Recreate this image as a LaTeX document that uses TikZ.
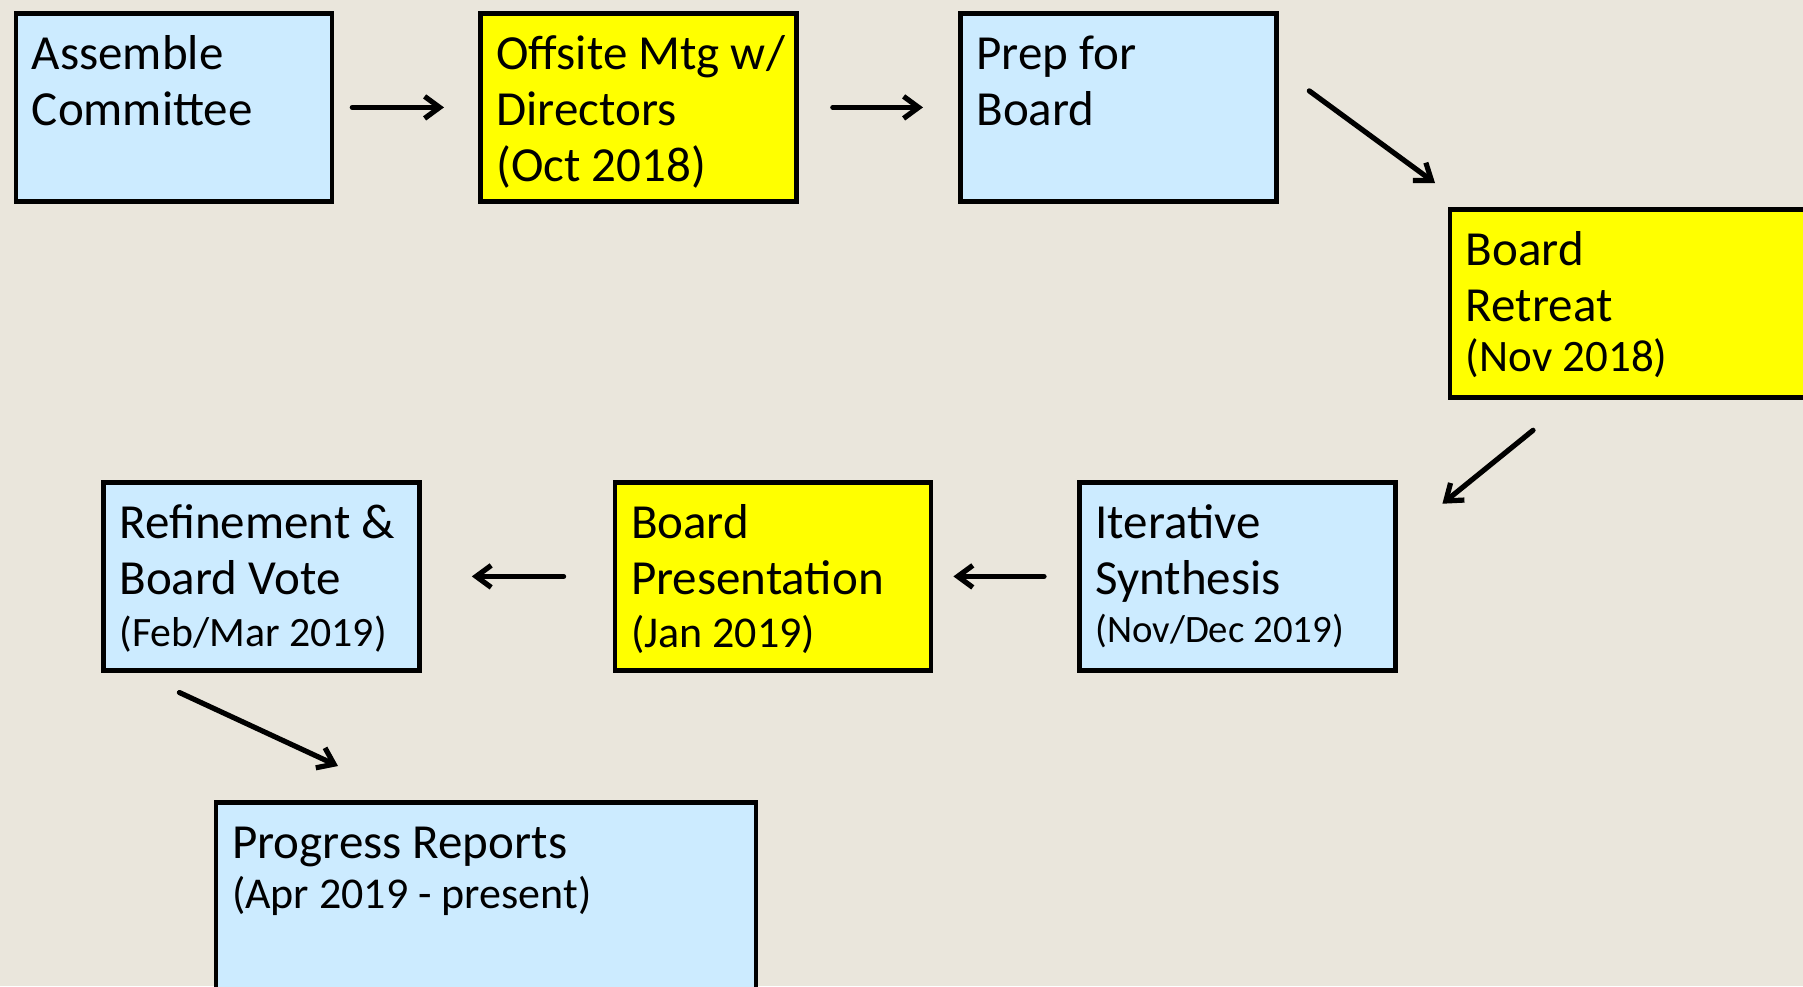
\documentclass[tikz,border=0pt]{standalone}
\usepackage{fontspec}
\setmainfont{Carlito}
\usepackage{tikz}
\usetikzlibrary{arrows.meta}

\definecolor{paper}{HTML}{EAE6DC}
\definecolor{skyblue}{HTML}{CCEBFF}
\definecolor{lemon}{HTML}{FFFF00}

\begin{document}
\begin{tikzpicture}
  [x=0.5pt,y=-0.5pt,
   box/.style={draw=black,line width=2.4pt,anchor=north west,minimum width=158pt,minimum height=94pt,inner sep=0pt},
   txt/.style={anchor=base west,inner sep=0pt,font=\fontsize{24.5}{28.2}\selectfont},
   arr/.style={line width=2.6pt,line cap=round,-{Straight Barb[length=7.5pt,width=11pt,line width=2.6pt]}}]
  \useasboundingbox (0,0) rectangle (1803,986);
  \clip (0,0) rectangle (1803,986);
  \fill[paper] (0,0) rectangle (1803,986);

  % top row
  \node[box,fill=skyblue] (asm)  at (13.5,11) {};
  \node[box,fill=lemon]   (offs) at (478,11) {};
  \node[box,fill=skyblue] (prep) at (958,11) {};
  \node[box,fill=lemon,minimum width=200pt] (retr) at (1447.5,207) {};
  % middle row
  \node[box,fill=skyblue] (iter) at (1077,480) {};
  \node[box,fill=lemon]   (pres) at (612.6,480) {};
  \node[box,fill=skyblue] (vote) at (101,480) {};
  % bottom
  \node[box,fill=skyblue,minimum width=270pt,minimum height=125pt] (prog) at (213.6,800) {};

  \node[txt] (asm-t)  at ([shift={(18,58)}]asm.north west)  {\parbox[t]{150pt}{Assemble\\Committee}};
  \node[txt] (offs-t) at ([shift={(18,58)}]offs.north west) {\parbox[t]{150pt}{Offsite Mtg w/\\Directors\\(Oct 2018)}};
  \node[txt] (prep-t) at ([shift={(18,58)}]prep.north west) {\parbox[t]{150pt}{Prep for\\Board}};
  \node[txt] (retr-t) at ([shift={(18,58)}]retr.north west) {\parbox[t]{150pt}{Board\\Retreat\\[-3pt]{\fontsize{22.5}{27}\selectfont(Nov 2018)}}};
  \node[txt] (iter-t) at ([shift={(18,58)}]iter.north west) {\parbox[t]{150pt}{Iterative\\Synthesis\\[-4pt]{\fontsize{19.4}{26}\selectfont(Nov/Dec 2019)}}};
  \node[txt] (pres-t) at ([shift={(18,58)}]pres.north west) {\parbox[t]{150pt}{Board\\Presentation\\[-1.7pt]{\fontsize{22}{27}\selectfont(Jan 2019)}}};
  \node[txt] (vote-t) at ([shift={(18,58)}]vote.north west) {\parbox[t]{150pt}{Refinement \&\\Board Vote\\[-2.3pt]{\fontsize{20.9}{27}\selectfont(Feb/Mar 2019)}}};
  \node[txt] (prog-t) at ([shift={(18,58)}]prog.north west) {\parbox[t]{260pt}{Progress Reports\\[-2.9pt]{\fontsize{22}{26}\selectfont(Apr 2019 - present)}}};

  \foreach \from/\to/\s/\e in {asm/offs/9pt/17pt,offs/prep/17pt/17.5pt,iter/pres/16.5pt/10pt,pres/vote/24.5pt/25pt}
    \draw[arr,shorten <=\s,shorten >=\e] (\from) -- (\to);

  \draw[arr] ([shift={(30.5,-16.5)}]prep.east) -- ([shift={(-12.5,-24)}]retr.north west);
  \draw[arr] ([shift={(85.5,30.5)}]retr.south west) -- ([shift={(44.6,23.7)}]iter.north east);
  \draw[arr] ([shift={(78.4,19.7)}]vote.south west) -- ([shift={(124.4,-34)}]prog.north west);

\end{tikzpicture}
\end{document}
